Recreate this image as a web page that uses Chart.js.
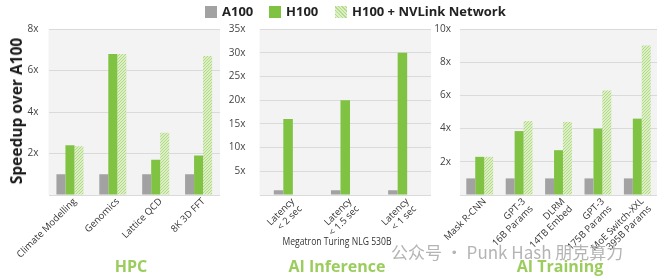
<!DOCTYPE html>
<html><head><meta charset="utf-8">
<script src="https://cdn.jsdelivr.net/npm/chart.js@4"></script>
<style>
body{margin:0;width:660px;height:279px;background:#fff;position:relative;overflow:hidden;font-family:"Open Sans",sans-serif}
canvas{position:absolute;top:0}
.t{position:absolute;white-space:nowrap}
.sw{position:absolute;width:12px;height:12px;top:6px}
.lg{position:absolute;top:2px;font-weight:bold;font-size:13px;color:#222;line-height:18px}
.ttl{position:absolute;top:256px;font-weight:bold;font-size:16px;color:#9bcd5c;transform:translateX(-50%);line-height:20px}
</style></head><body>
<canvas id="c1" width="222" height="279" style="left:0"></canvas>
<canvas id="c2" width="212" height="279" style="left:222px"></canvas>
<canvas id="c3" width="226" height="279" style="left:434px"></canvas>

<div class="sw" style="left:205px;background:#a2a2a2"></div>
<div class="lg" style="left:222px">A100</div>
<div class="sw" style="left:269px;background:#80c342"></div>
<div class="lg" style="left:286px">H100</div>
<div class="sw" style="left:335px;background:repeating-linear-gradient(45deg,#b3da86 0 1px,#dcefc6 1px 2.5px)"></div>
<div class="lg" style="left:352px">H100 + NVLink Network</div>

<div class="t" style="left:16px;top:111px;transform:translate(-50%,-50%) rotate(-90deg);font-weight:bold;font-size:15.5px;color:#1a1a1a">Speedup over A100</div>
<div class="t" style="left:337px;top:234px;transform:translateX(-50%) scaleX(0.86);font-size:10px;line-height:14px;color:#333">Megatron Turing NLG 530B</div>
<div class="t" style="left:391px;top:243px;font-family:'Noto Sans CJK SC',sans-serif;font-size:17px;line-height:18px;color:#b4b4b4">公众号 · Punk Hash 朋克算力</div>

<div class="ttl" style="left:131px">HPC</div>
<div class="ttl" style="left:337px">AI Inference</div>
<div class="ttl" style="left:560px">AI Training</div>

<script>
// ---- data ----
const hpcLabels = ["Climate Modelling", "Genomics", "Lattice QCD", "8K 3D FFT"];
const hpcA100 = [1, 1, 1, 1];
const hpcH100 = [2.4, 6.8, 1.7, 1.9];
const hpcNVL  = [2.35, 6.8, 3.0, 6.7];

const infLabels = [["Latency", "< 2 sec"], ["Latency", "< 1.5 sec"], ["Latency", "< 1 sec"]];
const infA100 = [1, 1, 1];
const infH100 = [16, 20, 30];
const infNVL  = [null, null, null];

const trnLabels = ["Mask R-CNN", ["GPT-3", "16B Params"], ["DLRM", "14TB Embed"], ["GPT-3", "175B Params"], ["MoE Switch-XXL", "395B Params"]];
const trnA100 = [1, 1, 1, 1, 1];
const trnH100 = [2.3, 3.85, 2.7, 4.0, 4.6];
const trnNVL  = [2.3, 4.45, 4.4, 6.3, 9.0];

const hpcMax = 8, hpcStep = 2;
const infMax = 35, infStep = 5;
const trnMax = 10, trnStep = 2;

// ---- styles ----
function hatch(){
  const c = document.createElement('canvas'); c.width = 3; c.height = 3;
  const x = c.getContext('2d');
  x.fillStyle = '#dcefc6'; x.fillRect(0,0,3,3);
  x.fillStyle = '#b0d982';
  for (let i=0;i<3;i++) x.fillRect(i, 2-i, 1, 1);
  return x.createPattern(c, 'repeat');
}
const bgPlugin = {id:'bg', beforeDraw(ch){const {ctx, chartArea:a} = ch; ctx.save(); ctx.fillStyle='#f3f3f3'; ctx.fillRect(a.left, a.top, a.width, a.height); ctx.restore();}};
// rotated category labels, placed at the library's tick pixels
const xLabelPlugin = {id:'xlab', afterDraw(ch){
  const {ctx, chartArea:a} = ch; const sc = ch.scales.x;
  ctx.save(); ctx.fillStyle = '#333'; ctx.font = '9.5px "Open Sans"';
  ctx.textAlign = 'right'; ctx.textBaseline = 'top';
  ch.data.labels.forEach((lab, i) => {
    const lines = Array.isArray(lab) ? lab : [lab];
    const x = sc.getPixelForTick(i) + 3, y = a.bottom + 3;
    ctx.save(); ctx.translate(x, y); ctx.rotate(-Math.PI/4);
    lines.forEach((ln, j) => ctx.fillText(ln, 0, j*10.5 - 2));
    ctx.restore();
  });
  ctx.restore();
}};

function make(id, labels, a, h, n, max, step, yW, padR, catPct, tickPad){
  const ctx = document.getElementById(id).getContext('2d');
  const pat = hatch();
  return new Chart(ctx, {
    type:'bar',
    data:{labels, datasets:[
      {data:a, backgroundColor:'#a2a2a2'},
      {data:h, backgroundColor:'#80c342'},
      {data:n, backgroundColor:pat}
    ].map(d=>Object.assign(d,{barPercentage:1, categoryPercentage:catPct, borderWidth:0}))},
    options:{
      responsive:false, animation:false,
      layout:{padding:{top:29, right:padR, bottom:0, left:0}},
      plugins:{legend:{display:false}, tooltip:{enabled:false}},
      scales:{
        x:{grid:{display:false}, border:{display:false},
           ticks:{display:false},
           afterFit(s){ s.height = 84; }},
        y:{min:0, max, grid:{color:'#dadada', drawTicks:false}, border:{display:false},
           ticks:{stepSize:step, color:'#444', padding:tickPad, font:{family:'Open Sans', size:10}, callback:v=> v ? v+'x' : ''},
           afterFit(s){ s.width = yW; }}
      }
    },
    plugins:[bgPlugin, xLabelPlugin]
  });
}

make('c1', hpcLabels, hpcA100, hpcH100, hpcNVL, hpcMax, hpcStep, 48.5, 2, 0.63, 10);
make('c2', infLabels, infA100, infH100, infNVL, infMax, infStep, 37.5, 3, 0.5, 14);
make('c3', trnLabels, trnA100, trnH100, trnNVL, trnMax, trnStep, 26, 3, 0.68, 9);
</script>
</body></html>
